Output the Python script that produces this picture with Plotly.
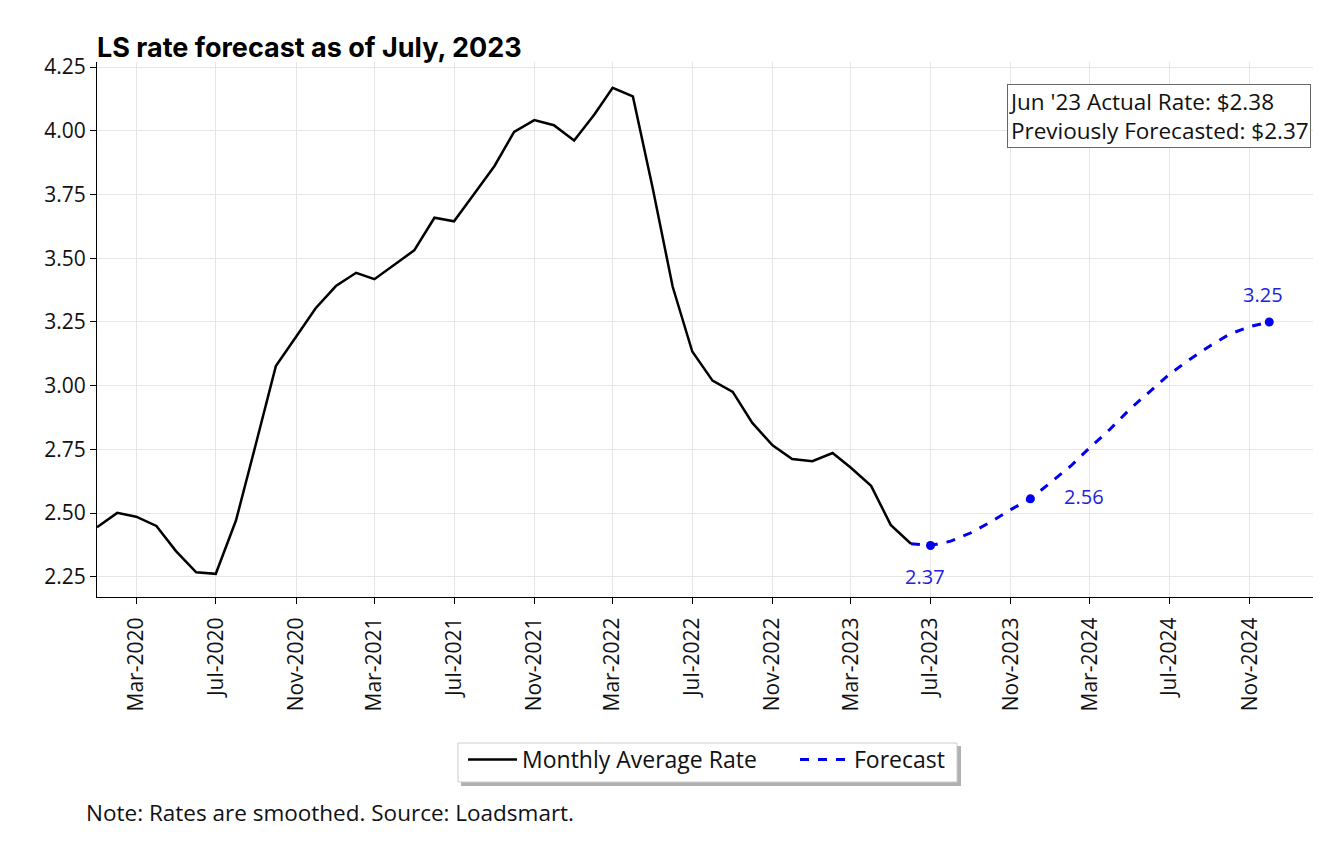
import pandas as pd
import plotly.graph_objects as go

# ---- data ----
actual_months = pd.date_range("2020-01-01", "2023-06-01", freq="MS")
actual_values = [
    2.445, 2.501, 2.486, 2.450, 2.351, 2.268, 2.262, 2.472, 2.777, 3.077, 3.192, 3.304,
    3.391, 3.443, 3.418, 3.474, 3.531, 3.659, 3.645, 3.753, 3.862, 3.996, 4.042, 4.022,
    3.962, 4.064, 4.169, 4.135, 3.780, 3.388, 3.134, 3.020, 2.976, 2.854, 2.766, 2.712,
    2.704, 2.736, 2.678, 2.607, 2.454, 2.380,
]
forecast_months = pd.date_range("2023-06-01", "2024-12-01", freq="MS")
forecast_values = [
    2.380, 2.373, 2.390, 2.423, 2.465, 2.514, 2.556, 2.619, 2.685, 2.757,
    2.829, 2.907, 2.979, 3.045, 3.103, 3.156, 3.202, 3.232, 3.250,
]
labelled_months = ["2023-07-01", "2023-12-01", "2024-12-01"]
labelled_text = ["2.37", "2.56", "3.25"]
label_shifts = [(-6, -31), (54, 2), (-6, 27)]

tick_dates = pd.date_range("2020-03-01", "2024-11-01", freq="4MS")
tick_labels = [d.strftime("%b-%Y") for d in tick_dates]
y_ticks = [2.25, 2.50, 2.75, 3.00, 3.25, 3.50, 3.75, 4.00, 4.25]

FONT = "Open Sans"
BLUE = "#0000ee"
TXT = "#111111"

# plot area on screen: x 97..1313, y 62..597 (page body adds an 8px offset)
def px(sx):
    return (sx - 97) / 1216

def py(sy):
    return (597 - sy) / 535

fc_lookup = dict(zip(forecast_months.strftime("%Y-%m-%d"), forecast_values))
mark_x = pd.to_datetime(labelled_months)
mark_y = [fc_lookup[m] for m in labelled_months]

fig = go.Figure()
fig.add_trace(go.Scatter(
    x=actual_months, y=actual_values, mode="lines",
    line=dict(color="black", width=2.5), name="Monthly Average Rate",
))
fig.add_trace(go.Scatter(
    x=forecast_months, y=forecast_values, mode="lines",
    line=dict(color=BLUE, width=3, dash="dash"), name="Forecast",
))
fig.add_trace(go.Scatter(
    x=mark_x, y=mark_y, mode="markers",
    marker=dict(color=BLUE, size=9), showlegend=False, hoverinfo="skip",
))

for xv, yv, txt, (dx, dy) in zip(mark_x, mark_y, labelled_text, label_shifts):
    fig.add_annotation(x=xv, y=yv, text=txt, showarrow=False,
                       xshift=dx, yshift=dy,
                       font=dict(family=FONT, size=20, color="#2222dd"))

fig.add_annotation(
    xref="paper", yref="paper", x=px(1311), y=py(84), xanchor="right", yanchor="top",
    text="Jun '23 Actual Rate: $2.38<br>Previously Forecasted: $2.37",
    showarrow=False, align="left", bordercolor="#666666", borderwidth=1,
    bgcolor="white", borderpad=1,
    font=dict(family=FONT, size=22.5, color=TXT),
)
fig.add_annotation(
    xref="paper", yref="paper", x=px(84), y=py(812), xanchor="left", yanchor="middle",
    text="Note: Rates are smoothed. Source: Loadsmart.", showarrow=False,
    font=dict(family=FONT, size=22.5, color=TXT),
)

# legend frame with drop shadow
fig.add_shape(type="rect", xref="paper", yref="paper",
              x0=px(461), x1=px(961), y0=py(786), y1=py(746),
              fillcolor="#b0b0b0", line=dict(width=0), layer="above")
fig.add_shape(type="rect", xref="paper", yref="paper",
              x0=px(458), x1=px(957), y0=py(782), y1=py(743),
              fillcolor="white", line=dict(color="#cccccc", width=1), layer="above")

fig.update_layout(
    width=1340, height=852,
    margin=dict(l=89, r=35, t=54, b=263),
    paper_bgcolor="white", plot_bgcolor="white",
    title=dict(text="<b>LS rate forecast as of July, 2023</b>", x=89/1340, xanchor="left",
               y=1-40/852, yanchor="middle",
               font=dict(family="Inter", size=27, color="black")),
    font=dict(family=FONT, size=19, color=TXT),
    legend=dict(orientation="h", x=px(463), xanchor="left", y=py(738), yanchor="top",
                borderwidth=0, bgcolor="rgba(0,0,0,0)",
                itemwidth=49, entrywidth=268, entrywidthmode="pixels",
                font=dict(family=FONT, size=23, color=TXT)),
    showlegend=True,
)
fig.update_xaxes(
    range=["2020-01-01", "2025-02-06"],
    tickvals=tick_dates, ticktext=tick_labels, tickangle=-90,
    showgrid=True, gridcolor="#e6e6e6", gridwidth=1,
    showline=True, linecolor="black", linewidth=1.2,
    ticks="outside", ticklen=6, tickcolor="black", ticklabelstandoff=5,
    tickfont=dict(family=FONT, size=21, color=TXT), zeroline=False,
)
fig.update_yaxes(
    range=[2.171, 4.27], tickvals=y_ticks, ticktext=[f"{v:.2f}" for v in y_ticks],
    showgrid=True, gridcolor="#e6e6e6", gridwidth=1,
    showline=True, linecolor="black", linewidth=1.2,
    ticks="outside", ticklen=6, tickcolor="black",
    tickfont=dict(family=FONT, size=21, color=TXT), zeroline=False,
)

fig.write_html("out.html")
